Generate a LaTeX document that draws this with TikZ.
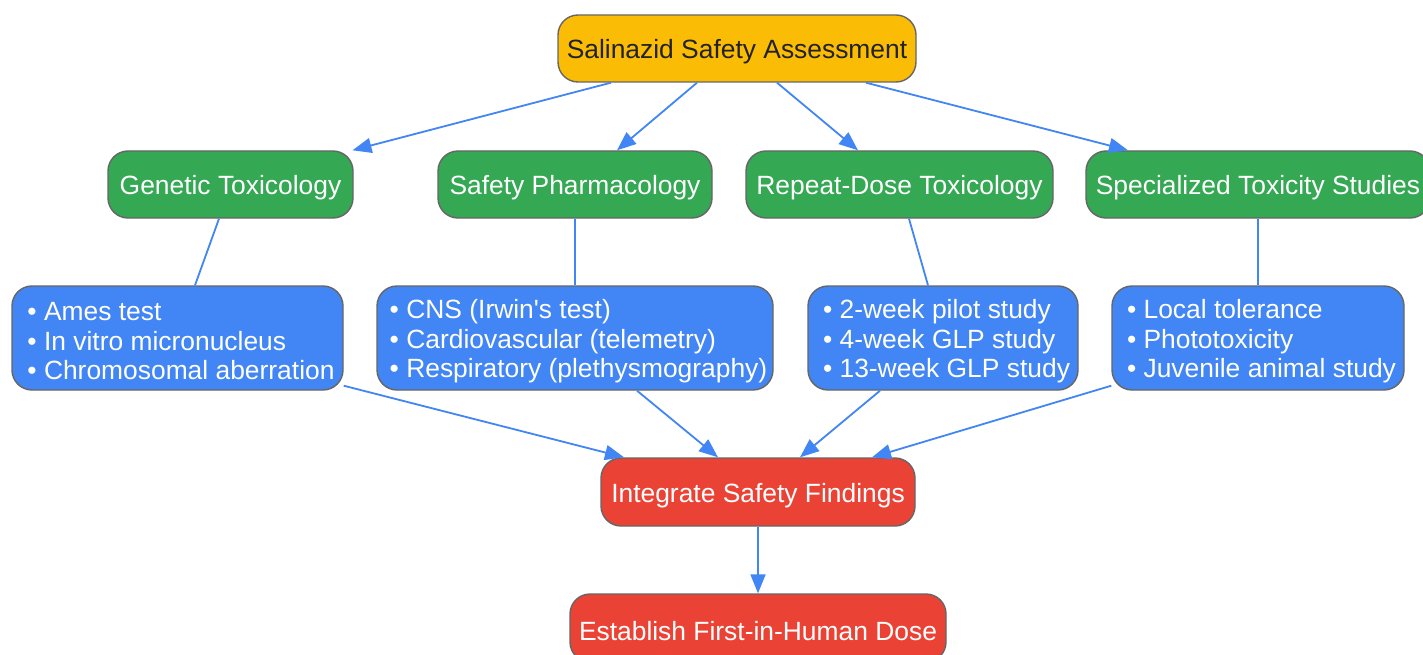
\documentclass[tikz,border=0pt]{standalone}
\usepackage{fontspec}
\setmainfont{Liberation Sans}[Ligatures=TeXOff]
\usetikzlibrary{arrows.meta}
\definecolor{cyellow}{HTML}{FBBC05}
\definecolor{cgreen}{HTML}{34A853}
\definecolor{cblue}{HTML}{4285F4}
\definecolor{cred}{HTML}{EA4335}
\definecolor{cborder}{HTML}{666666}
\definecolor{ctext}{HTML}{222222}
\newcommand{\lw}[1]{\raisebox{-3.5pt}[\height][\depth]{#1}}
\newcommand{\bl}[1]{\lw{\hspace*{7pt}#1}}
\tikzset{
  box/.style={draw=cborder, line width=1.4pt, rounded corners=20pt, inner sep=0pt,
    font=\fontsize{26.4}{29.5}\selectfont, align=center},
  topbox/.style={box, fill=cyellow, text=ctext},
  greenbox/.style={box, fill=cgreen, text=white, minimum height=67pt},
  bluebox/.style={box, fill=cblue, text=white, minimum height=104pt, align=left},
  redbox/.style={box, fill=cred, text=white, minimum height=68pt},
  edge/.style={draw=cblue, line width=1.8pt, -{Triangle[length=19pt,width=15pt]}},
  link/.style={draw=cblue, line width=1.8pt}
}
\begin{document}
\begin{tikzpicture}[x=1pt,y=-1pt]
\useasboundingbox (0,0) rectangle (1423,655);
\fill[white] (0,0) rectangle (1423,655);

\node[topbox, minimum width=358pt, minimum height=67pt] (top) at (737,48.5) {\lw{Salinazid Safety Assessment}};

\node[greenbox, minimum width=245pt] (gt) at (230.5,184.5) {\lw{Genetic Toxicology}};
\node[greenbox, minimum width=274pt] (sp) at (575,184.5) {\lw{Safety Pharmacology}};
\node[greenbox, minimum width=307pt] (rd) at (899.5,184.5) {\lw{Repeat-Dose Toxicology}};
\node[greenbox, minimum width=344pt] (st) at (1258,184.5) {\lw{Specialized Toxicity Studies}};

\node[bluebox, minimum width=331pt] (b1) at (177.5,338) {\bl{• Ames test}\\\bl{• In vitro micronucleus}\\\bl{• Chromosomal aberration}};
\node[bluebox, minimum width=396pt] (b2) at (575,338) {\bl{• CNS (Irwin's test)}\\\bl{• Cardiovascular (telemetry)}\\\bl{• Respiratory (plethysmography)}};
\node[bluebox, minimum width=270pt] (b3) at (943,338) {\bl{• 2-week pilot study}\\\bl{• 4-week GLP study}\\\bl{• 13-week GLP study}};
\node[bluebox, minimum width=292pt] (b4) at (1258,338) {\bl{• Local tolerance}\\\bl{• Phototoxicity}\\\bl{• Juvenile animal study}};

\node[redbox, minimum width=314pt] (int) at (758,492) {\lw{Integrate Safety Findings}};
\node[redbox, minimum width=376pt] (est) at (758,628) {\lw{Establish First-in-Human Dose}};

\draw[edge] ([xshift=-126pt]top.south) -- ([xshift=122pt]gt.north);
\draw[edge] ([xshift=-40pt]top.south) -- ([xshift=42pt]sp.north);
\draw[edge] ([xshift=40pt]top.south) -- ([xshift=-41.5pt]rd.north);
\draw[edge] ([xshift=129pt]top.south) -- ([xshift=-130pt]st.north);

\draw[link] ([xshift=-11.5pt]gt.south) -- ([xshift=17.5pt]b1.north);
\draw[link] (sp.south) -- (b2.north);
\draw[link] ([xshift=9.5pt]rd.south) -- ([xshift=-15pt]b3.north);
\draw[link] (st.south) -- (b4.north);

\draw[edge] ([yshift=5pt]b1.south east) -- ([xshift=-134pt]int.north);
\draw[edge] ([xshift=62pt]b2.south) -- ([xshift=-40pt]int.north);
\draw[edge] ([xshift=-63pt]b3.south) -- ([xshift=42pt]int.north);
\draw[edge] ([yshift=5pt]b4.south west) -- ([xshift=114pt]int.north);

\draw[edge] (int.south) -- (est.north);
\end{tikzpicture}
\end{document}
